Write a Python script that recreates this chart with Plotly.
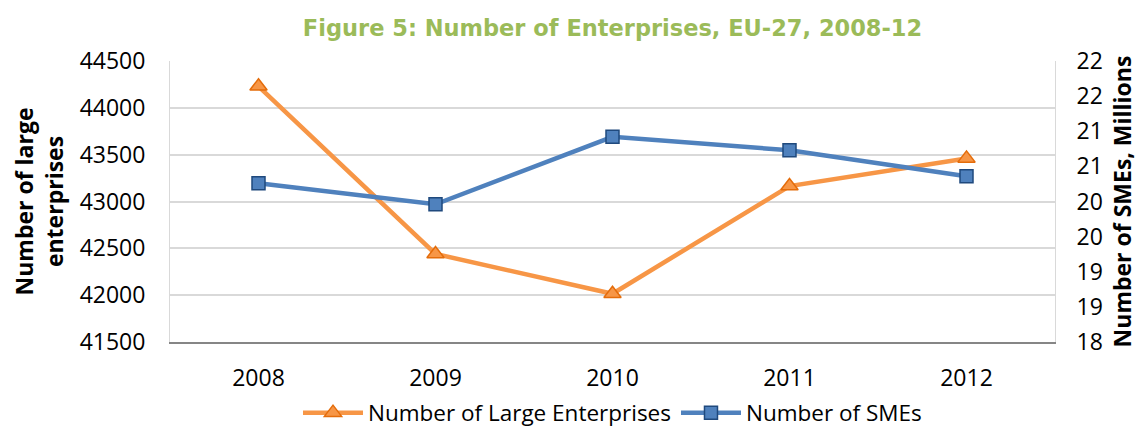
import plotly.graph_objects as go

years = ["2008", "2009", "2010", "2011", "2012"]
large_enterprises = [44230, 42440, 42015, 43165, 43460]
smes_millions = [20.26, 19.96, 20.92, 20.73, 20.36]

left_ticks = [41500, 42000, 42500, 43000, 43500, 44000, 44500]
right_tickvals = [18, 18.5, 19, 19.5, 20, 20.5, 21, 21.5, 22]
right_ticktext = ["18", "19", "19", "20", "20", "21", "21", "22", "22"]

FONT = "Open Sans"
W, H = 1137, 422  # page body has an 8px margin

fig = go.Figure()
fig.add_trace(go.Scatter(
    x=years, y=large_enterprises, name="Number of Large Enterprises",
    mode="lines+markers",
    line=dict(color="#F79646", width=4.5),
    marker=dict(symbol="triangle-up", size=15, color="#F79646",
                line=dict(color="#E46C0A", width=1.5)),
    yaxis="y"))
fig.add_trace(go.Scatter(
    x=years, y=smes_millions, name="Number of SMEs",
    mode="lines+markers",
    line=dict(color="#4F81BD", width=4.5),
    marker=dict(symbol="square", size=13, color="#4F81BD",
                line=dict(color="#1F497D", width=1.5)),
    yaxis="y2"))

fig.update_layout(
    width=W, height=H,
    margin=dict(l=162, r=90, t=53, b=88, autoexpand=False),
    paper_bgcolor="white", plot_bgcolor="white",
    font=dict(family=FONT, size=23, color="#000000"),
    title=dict(text="<b>Figure 5: Number of Enterprises, EU-27, 2008-12</b>",
               font=dict(family="DejaVu Sans", size=22.5, color="#9BBB59"),
               xref="paper", x=0.5, xanchor="center",
               yref="container", y=1 - 20 / H, yanchor="middle"),
    xaxis=dict(type="category", range=[-0.5, 4.5], showgrid=False,
               showline=True, linecolor="#868686", linewidth=2,
               ticks="", tickfont=dict(size=23), ticklabelstandoff=14,
               automargin=False),
    yaxis=dict(range=[41500, 44500], tickvals=left_ticks, tickformat="d",
               showgrid=True, gridcolor="#D9D9D9", gridwidth=1.5,
               showline=True, linecolor="#D9D9D9", linewidth=1,
               zeroline=False, ticks="", tickfont=dict(size=23),
               ticklabelstandoff=19, automargin=False,
               title=dict(text="<b>Number of large<br>enterprises</b>",
                          font=dict(size=23), standoff=10)),
    yaxis2=dict(range=[18, 22], tickvals=right_tickvals, ticktext=right_ticktext,
                overlaying="y", side="right", showgrid=False,
                showline=True, linecolor="#D9D9D9", linewidth=1,
                zeroline=False, ticks="", tickfont=dict(size=23),
                ticklabelstandoff=16, automargin=False,
                title=dict(text="<b>Number of SMEs, Millions</b>",
                           font=dict(size=23), standoff=12)),
    legend=dict(orientation="h", x=0.5, xanchor="center",
                yref="container", y=17 / H, yanchor="middle",
                font=dict(size=22.5), itemwidth=60, tracegroupgap=0),
    showlegend=True,
)
fig.write_html("out.html")
